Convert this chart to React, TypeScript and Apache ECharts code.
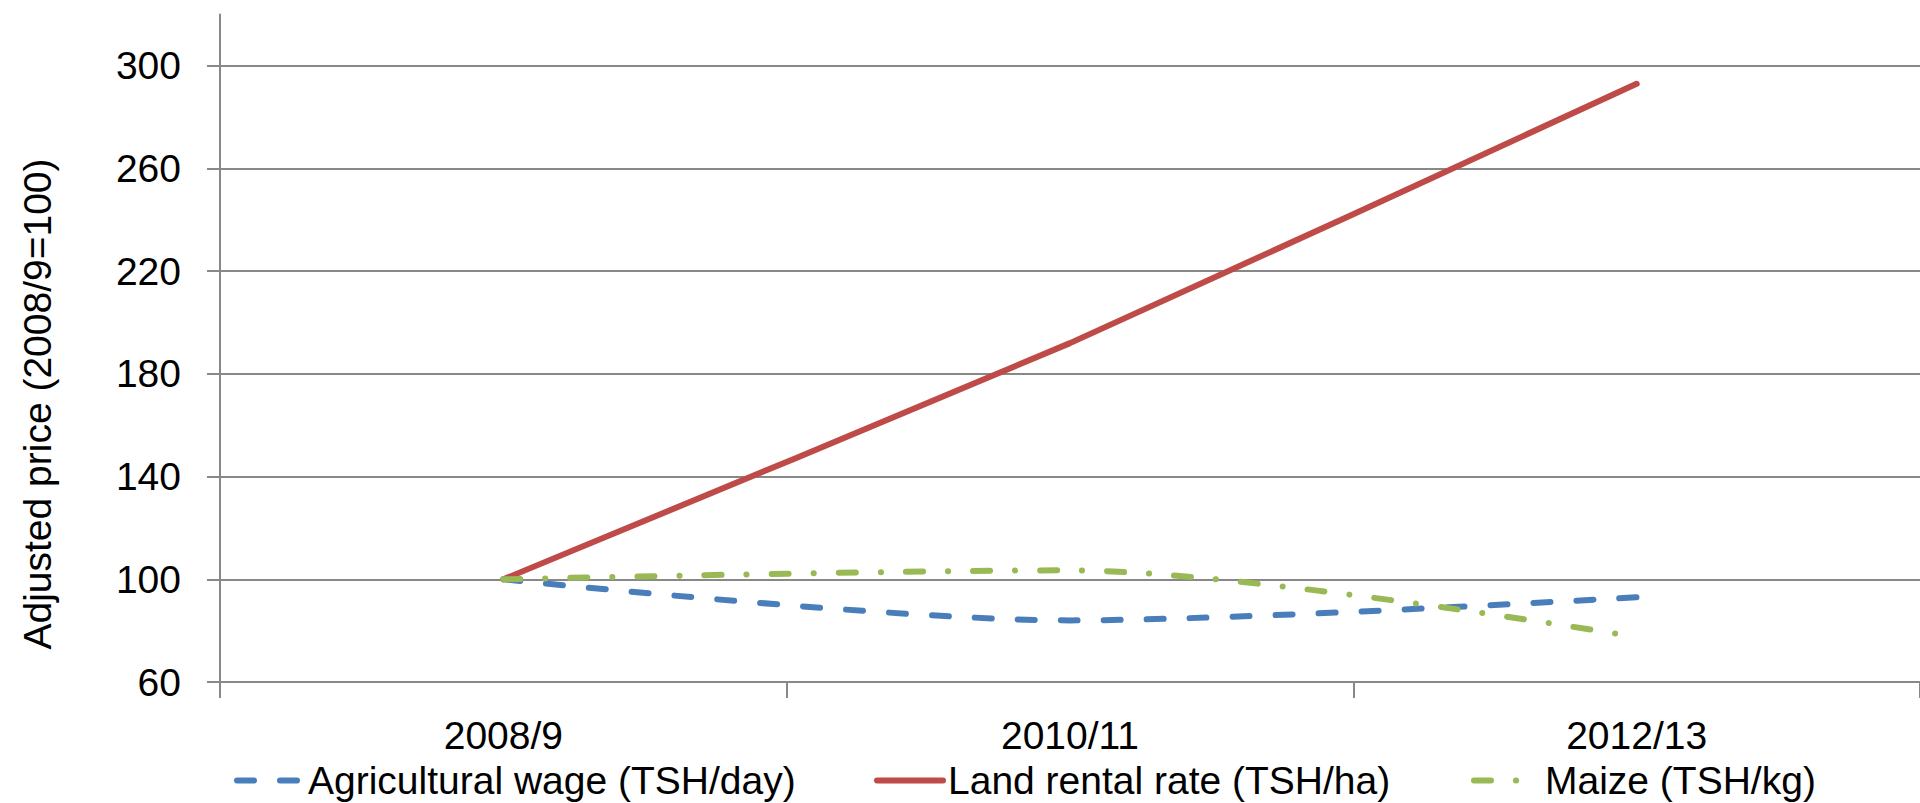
import React, { useEffect, useRef } from "react";
import * as echarts from "echarts";

const categories = ["2008/9", "2010/11", "2012/13"];
const wageValues = [100, 84, 93];
const landValues = [100, 192, 293];
const maizeValues = [100, 103.5, 77.5];
const yTicks = [60, 100, 140, 180, 220, 260, 300];
const seriesNames = [
  "Agricultural wage (TSH/day)",
  "Land rental rate (TSH/ha)",
  "Maize (TSH/kg)",
];
const yTitle = "Adjusted price (2008/9=100)";

const FONT = "'Liberation Sans', Arial, sans-serif";
const FS = 39;
const AXIS_COLOR = "#888888";
const COLORS = ["#4A7EBB", "#BE4B48", "#98B954"];
const DASHES: any[] = [[17, 26], "solid", [17, 25, 0.1, 25]];

export default function App() {
  const ref = useRef<HTMLDivElement>(null);
  useEffect(() => {
    if (!ref.current) return;
    const chart = echarts.init(ref.current, null, { renderer: "svg" });
    const legendAt = (i: number, left: number) => ({
      left,
      top: 756,
      itemWidth: 66,
      itemHeight: 40,
      itemGap: 0,
      textStyle: { fontFamily: FONT, fontSize: FS, color: "#000" },
      selectedMode: false,
      itemStyle: { opacity: 0 },
      lineStyle: { color: COLORS[i], width: 6, type: DASHES[i], cap: "round" },
      data: [seriesNames[i]],
    });
    chart.setOption({
      animation: false,
      backgroundColor: "#ffffff",
      textStyle: { fontFamily: FONT },
      grid: { left: 220, right: -16, top: 14.5, bottom: 121, containLabel: false },
      xAxis: {
        type: "category",
        data: categories,
        boundaryGap: true,
        axisLine: { show: true, lineStyle: { color: AXIS_COLOR, width: 2 } },
        axisTick: { show: true, interval: 0, length: 16, lineStyle: { color: AXIS_COLOR, width: 2 } },
        axisLabel: { fontFamily: FONT, fontSize: FS, color: "#000", margin: 34, interval: 0 },
        splitLine: { show: false },
      },
      yAxis: {
        type: "value",
        min: 60,
        max: 320,
        interval: 40,
        axisLine: { show: true, lineStyle: { color: AXIS_COLOR, width: 2 } },
        axisTick: { show: true, length: 13, customValues: yTicks, lineStyle: { color: AXIS_COLOR, width: 2 } },
        axisLabel: {
          fontFamily: FONT,
          fontSize: FS,
          color: "#000",
          margin: 39,
          customValues: yTicks,
        },
        splitLine: { show: true, lineStyle: { color: AXIS_COLOR, width: 2 } },
      },
      legend: [legendAt(0, 229), legendAt(1, 869), legendAt(2, 1466)],
      graphic: [
        {
          type: "text",
          x: 37,
          y: 404,
          rotation: Math.PI / 2,
          style: {
            text: yTitle,
            fontFamily: FONT,
            fontSize: FS,
            fill: "#000",
            textAlign: "center",
            textVerticalAlign: "middle",
          },
        },
      ],
      series: [
        {
          name: seriesNames[0],
          type: "line",
          data: wageValues,
          smooth: 0.3,
          symbol: "none",
          lineStyle: { color: COLORS[0], width: 6, type: DASHES[0], cap: "round" },
          itemStyle: { color: COLORS[0] },
          z: 3,
        },
        {
          name: seriesNames[1],
          type: "line",
          data: landValues,
          smooth: 0.15,
          symbol: "none",
          lineStyle: { color: COLORS[1], width: 6, type: DASHES[1], cap: "round" },
          itemStyle: { color: COLORS[1] },
          z: 2,
        },
        {
          name: seriesNames[2],
          type: "line",
          data: maizeValues,
          smooth: 0.3,
          symbol: "none",
          lineStyle: { color: COLORS[2], width: 6, type: DASHES[2], cap: "round" },
          itemStyle: { color: COLORS[2] },
          z: 4,
        },
      ],
    });
    return () => chart.dispose();
  }, []);
  return (
    <div
      ref={ref}
      style={{ position: "absolute", left: 0, top: 0, width: 1920, height: 803 }}
    />
  );
}
